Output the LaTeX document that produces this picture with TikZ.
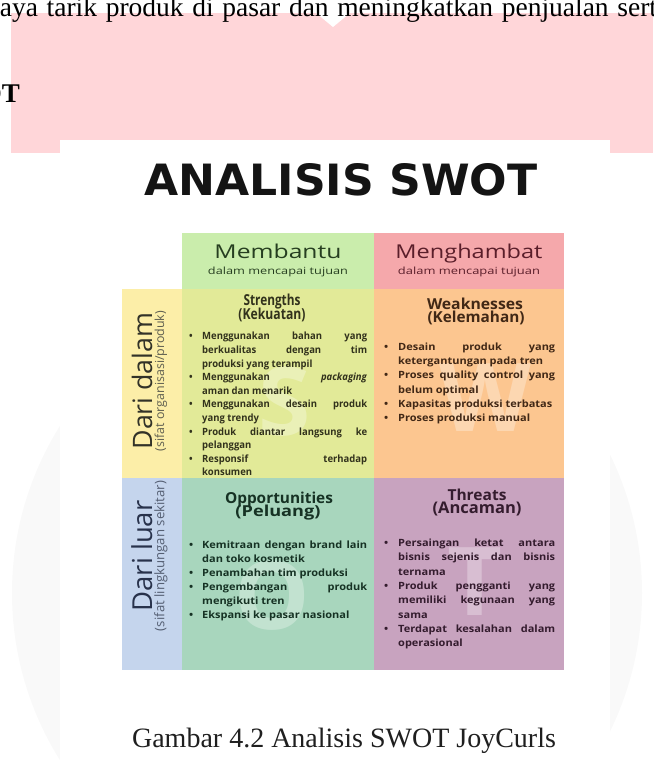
\documentclass[tikz,border=0pt]{standalone}
\usepackage{fontspec}
\usepackage{graphicx}
\setmainfont{Liberation Serif}
\newfontfamily\osans{Open Sans}
\newfontfamily\bodyS{Open Sans}[FakeStretch=0.95]
\newfontfamily\bodyW{Open Sans}[FakeStretch=1.1]
\newfontfamily\dvsans{DejaVu Sans}
\definecolor{pinkbg}{RGB}{255,214,217}
\definecolor{hdrgreen}{RGB}{202,237,172}
\definecolor{hdrpink}{RGB}{245,168,171}
\definecolor{leftyellow}{RGB}{252,238,168}
\definecolor{leftblue}{RGB}{197,213,237}
\definecolor{sfill}{RGB}{226,234,152}
\definecolor{wfill}{RGB}{252,198,144}
\definecolor{ofill}{RGB}{168,214,189}
\definecolor{tfill}{RGB}{200,163,191}
\definecolor{stext}{RGB}{50,50,28}
\definecolor{wtext}{RGB}{65,40,22}
\definecolor{otext}{RGB}{22,50,36}
\definecolor{ttext}{RGB}{52,28,46}
\definecolor{gtext}{RGB}{38,62,32}
\definecolor{ptext}{RGB}{90,30,42}
\definecolor{ltext}{RGB}{50,50,40}
\definecolor{lsub}{RGB}{95,95,80}
\definecolor{btext}{RGB}{40,50,75}
\definecolor{bsub}{RGB}{85,95,115}
\newlength\bhang
\newcommand{\bitem}[1]{\par\hangindent=\bhang\hangafter=1\noindent\hbox to \bhang{\rule{0pt}{8pt}\textbullet\hfil}\ignorespaces#1}
\tikzset{
  lbl/.style={inner sep=0pt, anchor=base},
  listS/.style={anchor=north west, inner sep=0pt, text width=178pt, align=justify,
     font=\bodyS\bfseries\fontsize{10}{13.6}\selectfont\setlength\bhang{13pt}},
  listW/.style={anchor=north west, inner sep=0pt, text width=171pt, align=justify,
     font=\bodyW\bfseries\fontsize{10}{14.2}\selectfont\setlength\bhang{14pt}},
  wmark/.style={inner sep=0pt, text=white, opacity=0.3, font=\osans\bfseries\fontsize{95}{95}\selectfont}
}
\begin{document}
\begin{tikzpicture}[x=1pt,y=-1pt]
\useasboundingbox (0,0) rectangle (653,762);
\begin{scope}
\clip (0,0) rectangle (653,762);
% faint watermark circle
\fill[black!2.5] (327,593) circle (315);
% pink band
\fill[pinkbg] (11,13) rectangle (653,153);
\fill[white] (316,13) -- (350,13) -- (333,27) -- cycle;
% top text
\node[lbl, anchor=base west, font=\fontsize{27.5}{30}\selectfont] (toptext) at (-14,17)
  {\makebox[683pt][s]{daya tarik produk di pasar dan meningkatkan penjualan serta}};
\node[lbl, anchor=base east, font=\fontsize{27}{30}\selectfont\bfseries] (sechead) at (20,103) {OT};
% white image box
\fill[white] (60,140) rectangle (610,762);
% title
\node[lbl, text=black!92] (title) at (341,195) {\resizebox{393pt}{32pt}{\dvsans\bfseries ANALISIS SWOT}};
% grid
\fill[hdrgreen] (182,233) rectangle (374,289);
\fill[hdrpink] (374,233) rectangle (564,289);
\fill[leftyellow] (122,289) rectangle (182,478);
\fill[leftblue] (122,478) rectangle (182,670);
\fill[sfill] (182,289) rectangle (374,478);
\fill[wfill] (374,289) rectangle (564,478);
\fill[ofill] (182,478) rectangle (374,670);
\fill[tfill] (374,478) rectangle (564,670);
% watermark letters
\node[wmark] (wmS) at (285,402) {S};
\node[wmark] (wmW) at (485,398) {W};
\node[wmark] (wmO) at (272,596) {O};
\node[wmark] (wmT) at (475,582) {T};
% headers
\node[lbl, text=gtext] (membantu) at (278,258) {\resizebox{127pt}{14.5pt}{\osans Membantu}};
\node[lbl, text=gtext] (membantusub) at (278,274) {\resizebox{140pt}{7.5pt}{\osans dalam mencapai tujuan}};
\node[lbl, text=ptext] (menghambat) at (469,258) {\resizebox{147pt}{14.5pt}{\osans Menghambat}};
\node[lbl, text=ptext] (menghambatsub) at (469,274) {\resizebox{142pt}{7.5pt}{\osans dalam mencapai tujuan}};
% side labels
\node[inner sep=0pt, rotate=90, align=center] (dalam) at (149.5,381)
  {\textcolor{ltext}{\resizebox{137pt}{!}{\osans Dari dalam}}\\\textcolor{lsub}{\resizebox{140pt}{!}{\osans (sifat organisasi/produk)}}};
\node[inner sep=0pt, rotate=90, align=center] (luar) at (149.5,556)
  {\textcolor{btext}{\resizebox{111pt}{!}{\osans Dari luar}}\\\textcolor{bsub}{\resizebox{150pt}{!}{\osans (sifat lingkungan sekitar)}}};
% quadrant titles
\node[lbl, text=stext] (sT1) at (272,305) {\resizebox{57pt}{11.5pt}{\osans\bfseries Strengths}};
\node[lbl, text=stext] (sT2) at (272,319) {\resizebox{67pt}{11.5pt}{\osans\bfseries (Kekuatan)}};
\node[lbl, text=wtext] (wT1) at (475,309) {\resizebox{96pt}{11.5pt}{\osans\bfseries Weaknesses}};
\node[lbl, text=wtext] (wT2) at (476,322) {\resizebox{97pt}{11.5pt}{\osans\bfseries (Kelemahan)}};
\node[lbl, text=otext] (oT1) at (279,503) {\resizebox{108pt}{11.5pt}{\osans\bfseries Opportunities}};
\node[lbl, text=otext] (oT2) at (278,516) {\resizebox{85pt}{11.5pt}{\osans\bfseries (Peluang)}};
\node[lbl, text=ttext] (tT1) at (477,500) {\resizebox{59pt}{11.5pt}{\osans\bfseries Threats}};
\node[lbl, text=ttext] (tT2) at (477,513) {\resizebox{89pt}{11.5pt}{\osans\bfseries (Ancaman)}};
% lists
\node[listS, text=stext] (sList) at (189,326) {%
\bitem{Menggunakan bahan yang\linebreak berkualitas dengan tim\linebreak produksi yang terampil}
\bitem{Menggunakan \textit{packaging}\linebreak aman dan menarik}
\bitem{Menggunakan desain produk\linebreak yang trendy}
\bitem{Produk diantar langsung ke\linebreak pelanggan}
\bitem{Responsif terhadap\linebreak konsumen}\par};
\node[listW, text=wtext] (wList) at (384,336) {%
\bitem{Desain produk yang\linebreak ketergantungan pada tren}
\bitem{Proses quality control yang\linebreak belum optimal}
\bitem{Kapasitas produksi terbatas}
\bitem{Proses produksi manual}\par};
\node[listW, text width=178pt, text=otext, font=\bodyW\bfseries\fontsize{10}{14}\selectfont\setlength\bhang{13pt}] (oList) at (189,534) {%
\bitem{Kemitraan dengan brand lain\linebreak dan toko kosmetik}
\bitem{Penambahan tim produksi}
\bitem{Pengembangan produk\linebreak mengikuti tren}
\bitem{Ekspansi ke pasar nasional}\par};
\node[listW, text=ttext, font=\bodyW\bfseries\fontsize{10}{14.3}\selectfont\setlength\bhang{14pt}] (tList) at (384,532) {%
\bitem{Persaingan ketat antara\linebreak bisnis sejenis dan bisnis\linebreak ternama}
\bitem{Produk pengganti yang\linebreak memiliki kegunaan yang\linebreak sama}
\bitem{Terdapat kesalahan dalam\linebreak operasional}\par};
% caption
\node[lbl, text=black!88, font=\fontsize{28}{30}\selectfont] (caption) at (344,747) {Gambar 4.2 Analisis SWOT JoyCurls};
\end{scope}
\end{tikzpicture}
\end{document}
